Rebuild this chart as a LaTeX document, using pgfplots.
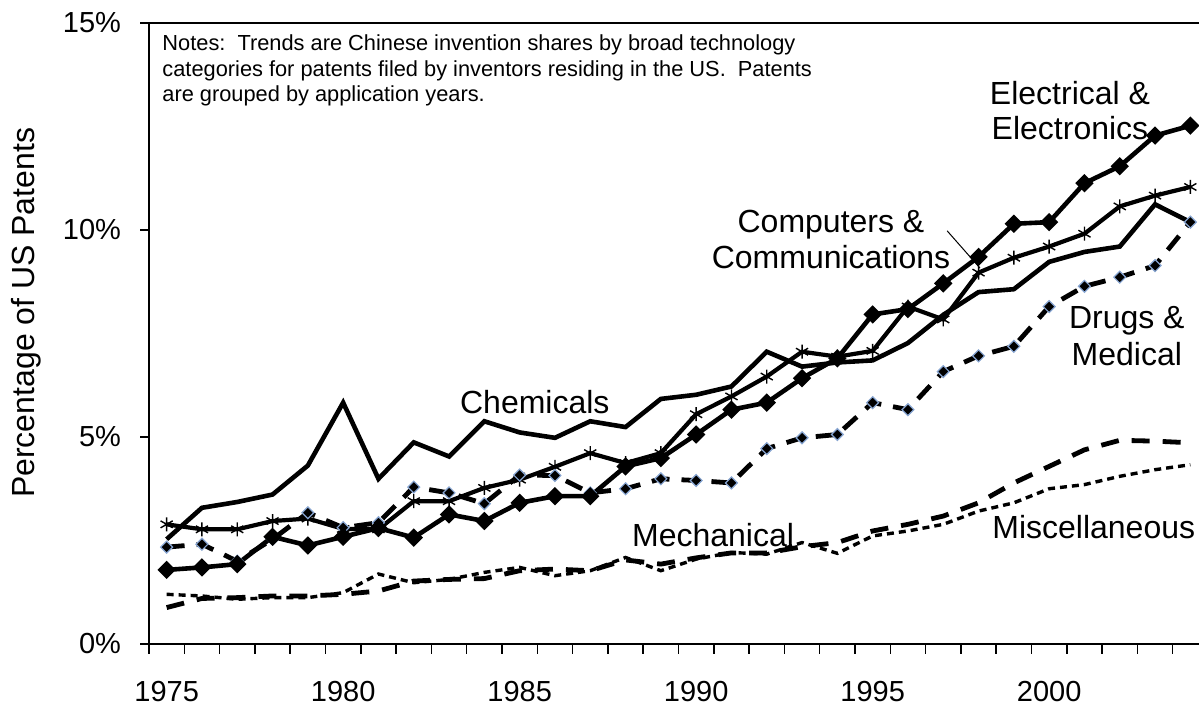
\documentclass[border=0pt]{standalone}
\usepackage{fontspec}
\setmainfont{Liberation Sans}
\usepackage{pgfplots}
\pgfplotsset{compat=1.18}
\usepackage{pgfplotstable}
\definecolor{mkblue}{RGB}{135,165,210}
\pgfplotstableread{
year chem ee comp drug mech misc
1975 2.53 1.79 2.89 2.34 0.88 1.20
1976 3.29 1.85 2.77 2.41 1.10 1.16
1977 3.43 1.93 2.77 2.00 1.12 1.08
1978 3.61 2.59 2.97 2.53 1.16 1.12
1979 4.31 2.38 3.03 3.17 1.16 1.12
1980 5.83 2.59 2.78 2.81 1.20 1.24
1981 3.99 2.80 2.77 2.93 1.28 1.69
1982 4.87 2.57 3.45 3.79 1.52 1.48
1983 4.53 3.13 3.45 3.65 1.56 1.56
1984 5.38 2.97 3.77 3.39 1.58 1.73
1985 5.11 3.41 3.97 4.08 1.77 1.85
1986 4.98 3.57 4.28 4.07 1.81 1.65
1987 5.38 3.57 4.61 3.65 1.77 1.77
1988 5.24 4.29 4.37 3.75 2.03 2.09
1989 5.92 4.49 4.61 3.99 1.93 1.77
1990 6.02 5.06 5.55 3.95 2.08 2.05
1991 6.22 5.66 5.98 3.89 2.20 2.21
1992 7.06 5.83 6.46 4.72 2.20 2.17
1993 6.70 6.42 7.06 4.98 2.35 2.45
1994 6.80 6.90 6.94 5.06 2.45 2.19
1995 6.85 7.96 7.08 5.83 2.73 2.61
1996 7.27 8.09 8.15 5.66 2.89 2.73
1997 7.95 8.71 7.84 6.58 3.09 2.89
1998 8.50 9.35 8.97 6.96 3.41 3.21
1999 8.57 10.15 9.33 7.19 3.89 3.41
2000 9.23 10.19 9.60 8.15 4.29 3.75
2001 9.47 11.13 9.91 8.64 4.69 3.85
2002 9.60 11.54 10.57 8.86 4.92 4.05
2003 10.62 12.28 10.83 9.14 4.90 4.21
2004 10.19 12.52 11.04 10.19 4.86 4.33
}\datatable
\begin{document}
\begin{tikzpicture}
\useasboundingbox (-74.5pt,-33.5pt) rectangle (525pt,322pt);
\clip (-74.5pt,-33.5pt) rectangle (525pt,322pt);
\begin{axis}[
  width=529.5pt, height=310.5pt, scale only axis,
  xmin=1974.5, xmax=2004.5, ymin=0, ymax=15,
  clip=false,
  axis line style={line width=0.75pt},
  tick pos=left, tick align=outside,
  major tick length=4.5pt,
  tick style={black, line width=0.75pt},
  xtick={1975,1980,1985,1990,1995,2000},
  xticklabels={1975,1980,1985,1990,1995,2000},
  xtick style={draw=none},
  extra x ticks={1974.5,1975.5,...,2004.5},
  extra x tick labels={},
  extra x tick style={xtick style={draw=black, line width=0.75pt}, major tick length=5pt},
  ytick={0,5,10,15},
  yticklabels={0\%,5\%,10\%,15\%},
  tick label style={font=\fontsize{14.5}{17}\selectfont},
  xticklabel style={yshift=-10.5pt},
  yticklabel style={xshift=-6pt},
  /pgf/number format/assume math mode=true,
]
\addplot[black, line width=1.7pt, dash pattern=on 3.5pt off 2.5pt] table[x=year,y=misc] {\datatable};
\addplot[black, line width=2.4pt, dash pattern=on 9pt off 6.5pt] table[x=year,y=mech] {\datatable};
\addplot[black, line width=2.3pt] table[x=year,y=chem] {\datatable};
\addplot[black, line width=2.1pt, mark=asterisk, mark size=3.5pt, mark options={solid, line width=0.7pt}] table[x=year,y=comp] {\datatable};
\addplot[black, line width=2.4pt, dash pattern=on 9pt off 6pt, mark=square*, mark size=2.1pt, mark options={solid, rotate=45, fill=black, draw=mkblue, line width=0.6pt}] table[x=year,y=drug] {\datatable};
\addplot[black, line width=2.3pt, mark=square*, mark size=2.1pt, mark options={solid, rotate=45, fill=black}] table[x=year,y=ee] {\datatable};

\node[font=\fontsize{16}{18.5}\selectfont] at (axis cs:1985.43,5.85) {Chemicals};
\node[font=\fontsize{16}{18.5}\selectfont] at (axis cs:1990.48,2.63) {Mechanical};
\node[font=\fontsize{16}{18.5}\selectfont, anchor=west, inner sep=0pt] at (axis cs:1998.38,2.83) {Miscellaneous};
\node[font=\fontsize{16}{18.5}\selectfont, align=center] at (axis cs:2002.2,7.44) {Drugs \&\\Medical};
\node[font=\fontsize{16}{18}\selectfont, align=center] at (axis cs:1993.82,9.76) {Computers \&\\Communications};
\node[font=\fontsize{16}{17.5}\selectfont, align=center] at (axis cs:2000.59,12.89) {Electrical \&\\Electronics};
\draw[black, line width=0.5pt] (axis cs:1997.11,9.98) -- (axis cs:1998.04,9.08);
\node[font=\fontsize{10.9}{12.85}\selectfont, align=left, anchor=north west, inner sep=0pt] at (axis cs:1974.87,14.73)
 {Notes:\ \ Trends are Chinese invention shares by broad technology\\categories for patents filed by inventors residing in the US.\ \ Patents\\are grouped by application years.};
\node[rotate=90, font=\fontsize{16}{19}\selectfont] at (axis cs:1971.02,8.0) {Percentage of US Patents};
\end{axis}
\end{tikzpicture}
\end{document}
